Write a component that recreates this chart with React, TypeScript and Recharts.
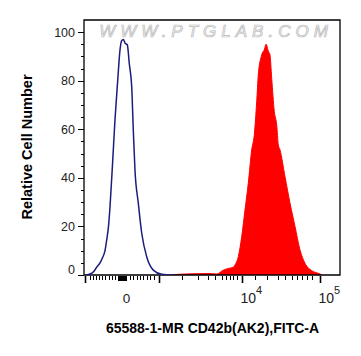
import { ComposedChart, Area, Line, XAxis, YAxis, ReferenceArea } from "recharts";

// x values are display channels on the logicle axis (0..256 across the plot)
const blueX = [0, 1, 6, 10, 13, 16, 18.3, 21, 22.7, 24.5, 26, 28.7, 31, 33.7, 36, 37.7, 39.3, 41, 43.3, 45.3, 47.7, 49.3, 51, 54.3, 57.7, 62.7, 69.3, 77.7, 90];
const blueY = [0, 0, 0.4, 1.5, 3.4, 5, 6.9, 10, 14.4, 20, 28, 47, 64, 80, 92.7, 96.5, 97, 95.5, 94.8, 87, 77.6, 59.7, 43, 29.6, 17.3, 7.5, 2, 0.3, 0];

const redX = [86, 95, 110, 125, 132.7, 139.3, 144.3, 149.3, 151, 154.3, 157.7, 161, 164.3, 167.7, 170.3, 172.7, 174.3, 177.7, 180.5, 182, 184.5, 186, 187.7, 190.3, 192.7, 194.3, 196, 201, 206, 211, 216, 221, 227.7, 234.3, 238];
const redY = [0, 0.3, 0.5, 0.6, 0.4, 2, 2.7, 3.2, 4.1, 7.5, 15.8, 26.8, 37.8, 51.5, 57.7, 71.4, 82.4, 90.6, 93, 95, 92, 90.6, 81, 67.3, 61.8, 53.6, 51.5, 40.5, 29.6, 20, 10.3, 4.8, 1.8, 0.7, 0];

// y axis ticks: labelled majors every 20, minors every 5
const yTicks = [0, 5, 10, 15, 20, 25, 30, 35, 40, 45, 50, 55, 60, 65, 70, 75, 80, 85, 90, 95, 100];
const yLabels = [0, 20, 40, 60, 80, 100];

// x axis tick positions (channels)
const xMajor = [1, 75, 158, 236];
const xZeroCluster = [34, 35, 36, 37, 38, 39, 40, 41, 42];
const xMinor = [6, 9, 12, 15, 18, 21, 24.5, 28, 31, 46, 49, 53, 56, 59, 62.5, 66, 70, 98, 114, 124, 131, 138, 142, 146, 149, 153, 171, 183, 194, 201, 208, 213, 218, 223, 228];
const xLabels = [
  { at: 42.5, base: "0", exp: "" },
  { at: 158.5, base: "10", exp: "4" },
  { at: 236.5, base: "10", exp: "5" },
];

const blueData = blueX.map((x, i) => ({ x, y: blueY[i] }));
const redData = redX.map((x, i) => ({ x, y: redY[i] }));
const allXTicks = [...xMajor, ...xZeroCluster, ...xMinor, ...xLabels.map((l) => l.at)].sort((a, b) => a - b);

const FONT = "'Liberation Sans', Arial, sans-serif";

const YTick = (props: any) => {
  const { x, y, payload } = props;
  const v = payload.value;
  const major = yLabels.includes(v);
  const yy = Math.round(y) + 0.5;
  return (
    <g>
      <line x1={x - (major ? 6 : 3)} x2={x} y1={yy} y2={yy} stroke="#000" strokeWidth={1} shapeRendering="crispEdges" />
      {major && (
        <text x={x - 9} y={y + (v === 0 ? -1 : 4.5)} textAnchor="end" fontSize={12.5} fontFamily={FONT} fill="#222">
          {v}
        </text>
      )}
    </g>
  );
};

const XTick = (props: any) => {
  const { x, y, payload } = props;
  const v = payload.value;
  const label = xLabels.find((l) => l.at === v);
  if (label) {
    if (!label.exp) {
      return (
        <text x={x} y={y + 28} textAnchor="middle" fontSize={13.5} fontFamily={FONT} fill="#222">
          {label.base}
        </text>
      );
    }
    return (
      <text x={x - 2} y={y + 28} textAnchor="start" fontSize={14} fontFamily={FONT} fill="#222">
        {label.base}
        <tspan fontSize={11} dy={-9}>{label.exp}</tspan>
      </text>
    );
  }
  let len = 4;
  let w = 1;
  if (xMajor.includes(v)) { len = 7; w = 1.6; }
  else if (xZeroCluster.includes(v)) { len = 5; }
  const xx = Math.round(x) + 0.5;
  return <line x1={xx} x2={xx} y1={y + 1} y2={y + 1 + len} stroke="#000" strokeWidth={w} />;
};

export default function App() {
  return (
    <div style={{ position: "absolute", left: 0, top: 0, width: 361, height: 356, background: "#fff" }}>
      <ComposedChart width={361} height={356} margin={{ top: 20, right: 21, bottom: 0, left: 0 }}>
        <XAxis
          type="number"
          dataKey="x"
          domain={[0, 256]}
          ticks={allXTicks}
          interval={0}
          minTickGap={0}
          tick={<XTick />}
          tickSize={0}
          tickMargin={0}
          tickLine={false}
          axisLine={false}
          height={81}
          allowDataOverflow
        />
        <YAxis
          type="number"
          domain={[0, 105]}
          ticks={yTicks}
          interval={0}
          tick={<YTick />}
          tickSize={0}
          tickMargin={0}
          tickLine={false}
          axisLine={false}
          width={84}
          allowDataOverflow
        />
        <Area
          data={redData}
          dataKey="y"
          type="monotone"
          fill="#ff0000"
          fillOpacity={1}
          stroke="#ff0000"
          strokeWidth={1}
          dot={false}
          activeDot={false}
          isAnimationActive={false}
        />
        <Line
          data={blueData}
          dataKey="y"
          type="monotone"
          stroke="#1c1c7c"
          strokeWidth={1.5}
          dot={false}
          activeDot={false}
          isAnimationActive={false}
        />
        <ReferenceArea x1={0} x2={256} y1={0} y2={105} fill="none" stroke="#000" strokeWidth={1.3} ifOverflow="visible" />
        <text
          x={216}
          y={37}
          textAnchor="middle"
          fontSize={17}
          fontStyle="italic"
          letterSpacing={5}
          fontFamily={FONT}
          fill="#f7f7f7"
          stroke="#b8b8b8"
          strokeWidth={0.7}
        >
          WWW.PTGLAB.COM
        </text>
        <text
          x={31.5}
          y={147}
          transform="rotate(-90 31.5 147)"
          textAnchor="middle"
          fontSize={14.5}
          fontWeight="bold"
          fontFamily={FONT}
          fill="#000"
        >
          Relative Cell Number
        </text>
        <text x={212.5} y={333} textAnchor="middle" fontSize={14} fontWeight="bold" fontFamily={FONT} fill="#000">
          65588-1-MR CD42b(AK2),FITC-A
        </text>
      </ComposedChart>
    </div>
  );
}
